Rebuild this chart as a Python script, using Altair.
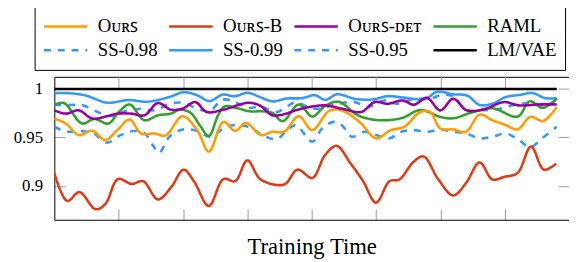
import altair as alt
import pandas as pd

# ---- data (x in "training time" units, ticks every 10) ----
SERIES = ["Oᴜʀꜱ", "Oᴜʀꜱ-B", "Oᴜʀꜱ-ᴅᴇᴛ", "RAML", "SS-0.98", "SS-0.99", "SS-0.95", "LM/VAE"]
COLORS = ["#FF9C00", "#DD3C16", "#9A00A0", "#33A02C", "#3399FF", "#3399FF", "#3399FF", "#000000"]
DASHES = [[1, 0], [1, 0], [1, 0], [1, 0], [7, 7], [1, 0], [7, 7], [1, 0]]
WIDTHS = [2.6, 2.6, 2.6, 1.0, 1.0, 1.0, 1.0, 1.1]
DRAW_ORDER = ["LM/VAE", "SS-0.95", "SS-0.98", "SS-0.99", "RAML", "Oᴜʀꜱ-B", "Oᴜʀꜱ", "Oᴜʀꜱ-ᴅᴇᴛ"]

X_TICKS = [10, 20, 30, 40, 50, 60, 70]
Y_TICKS = [0.9, 0.95, 1.0]

OURS_T = [0, 1.8, 3.8, 5.9, 7.9, 9.9, 11.7, 13.5, 15.6, 17.3, 19.9, 22.2, 24.0, 26.3, 28.1, 29.8,
          32.1, 33.9, 35.7, 38.0, 40.1, 42.6, 44.1, 45.7, 47.7, 50.0, 52.3, 54.4, 56.9, 58.4,
          60.0, 62.0, 64.0, 66.1, 68.1, 70.2, 72.0, 74.0, 76.0, 78.1]
OURS_V = [.9694, .9643, .9524, .9568, .9473, .9582, .9684, .9540, .9540, .9520, .9718, .9575,
          .9354, .9660, .9568, .9650, .9524, .9558, .9558, .9718, .9575, .9769, .9786, .9745,
          .9643, .9490, .9575, .9609, .9762, .9762, .9592, .9582, .9558, .9735, .9677, .9626,
          .9582, .9711, .9670, .9813]

OURSB_T = [0, 2.0, 3.9, 6.4, 7.9, 9.9, 12.0, 13.8, 16.1, 18.1, 20.1, 21.7, 24.0, 26.3, 28.1,
           30.0, 32.1, 35.7, 37.8, 40.1, 42.1, 43.9, 46.0, 48.0, 50.0, 52.1, 53.6, 55.9, 57.4,
           59.7, 62.0, 64.0, 66.1, 68.1, 69.9, 72.0, 74.1, 76.1, 78.0]
OURSB_V = [.9133, .8844, .8935, .8759, .8810, .9071, .9020, .9048, .8860, .8980, .9167, .9048,
           .8793, .9071, .9048, .9262, .9065, .9014, .9167, .9082, .9320, .9412, .9235, .9048,
           .8827, .9048, .9065, .9252, .9303, .9065, .8901, .9030, .9241, .9065, .9092, .9133,
           .9405, .9167, .9228]

DET_T = [0, 1.8, 3.8, 5.9, 8.0, 9.9, 12.0, 14.0, 16.1, 18.1, 19.9, 21.9, 23.7, 26.3, 30.1, 31.9,
         33.9, 36.0, 37.5, 39.6, 42.1, 44.7, 47.7, 49.8, 51.8, 54.1, 55.9, 57.9, 60.0, 62.0,
         64.1, 66.6, 69.9, 72.2, 75.3, 78.1]
DET_V = [.9779, .9745, .9779, .9694, .9715, .9745, .9745, .9728, .9854, .9786, .9796, .9864,
         .9762, .9786, .9857, .9830, .9728, .9745, .9779, .9813, .9830, .9796, .9762, .9864,
         .9847, .9881, .9837, .9908, .9779, .9898, .9779, .9786, .9864, .9830, .9840, .9840]

RAML_T = [0, 1.5, 4.3, 6.2, 8.4, 10.0, 11.7, 14.0, 16.1, 18.1, 19.5, 21.2, 22.7, 24.0, 25.5,
          26.5, 28.3, 30.4, 32.4, 33.9, 35.5, 38.0, 40.1, 42.1, 44.2, 47.2, 50.0, 53.9, 56.9,
          60.0, 62.0, 64.8, 68.1, 72.0, 73.9, 75.9, 78.1]
RAML_V = [.9837, .9854, .9643, .9690, .9643, .9760, .9840, .9677, .9728, .9745, .9786, .9752,
          .9616, .9514, .9735, .9820, .9803, .9769, .9769, .9752, .9667, .9840, .9715, .9825,
          .9867, .9728, .9680, .9697, .9782, .9711, .9697, .9755, .9800, .9714, .9872, .9805,
          .9900]

SS98_T = [0, 2.5, 4.5, 6.8, 8.8, 11.0, 13.5, 15.6, 18.1, 20.2, 22.3, 24.2, 26.2, 28.2, 30.2,
          32.2, 34.5, 36.0, 37.5, 39.5, 41.1, 44.2, 46.7, 48.7, 51.3, 53.3, 55.9, 58.4, 60.3,
          62.0, 64.1, 66.1, 69.2, 72.2, 74.8, 76.5, 78.1]
SS98_V = [.9835, .9835, .9830, .9760, .9720, .9770, .9795, .9780, .9850, .9855, .9790, .9775,
          .9890, .9860, .9805, .9815, .9760, .9810, .9864, .9810, .9796, .9847, .9864, .9813,
          .9880, .9847, .9898, .9898, .9940, .9920, .9780, .9780, .9796, .9847, .9847, .9830,
          .9890]

SS99_T = [0, 2.3, 4.9, 8.2, 11.5, 14.5, 17.8, 20.1, 22.2, 24.1, 26.2, 28.0, 30.1, 32.0, 34.0,
          36.0, 38.5, 40.5, 42.1, 44.0, 46.7, 49.3, 51.8, 54.4, 57.6, 59.5, 62.0, 64.2, 66.1,
          68.1, 70.1, 72.5, 74.3, 76.3, 78.1]
SS99_V = [.9956, .9956, .9932, .9858, .9885, .9868, .9915, .9965, .9935, .9875, .9942, .9925,
          .9960, .9915, .9871, .9900, .9905, .9935, .9888, .9945, .9898, .9890, .9925, .9910,
          .9895, .9970, .9945, .9930, .9835, .9847, .9915, .9940, .9958, .9905, .9905]

SS95_T = [0, 1.8, 4.0, 6.0, 8.2, 10.2, 12.2, 14.0, 15.3, 16.3, 17.8, 19.8, 22.0, 24.2, 26.5,
          28.5, 30.5, 32.3, 34.5, 36.0, 37.5, 40.1, 41.6, 43.4, 44.7, 46.2, 48.2, 50.0, 52.1,
          53.9, 55.9, 57.9, 60.0, 62.0, 64.1, 66.1, 68.1, 70.2, 72.2, 74.0, 75.8, 78.1]
SS95_V = [.9610, .9560, .9565, .9545, .9446, .9520, .9565, .9545, .9420, .9340, .9500, .9580,
          .9570, .9507, .9600, .9630, .9600, .9525, .9480, .9560, .9626, .9456, .9590, .9660,
          .9626, .9507, .9558, .9524, .9490, .9558, .9575, .9558, .9580, .9558, .9540, .9490,
          .9507, .9540, .9473, .9400, .9490, .9610]

LM_T = [0, 78.1]
LM_V = [1.0, 1.0]

DATA = {
    "Oᴜʀꜱ": (OURS_T, OURS_V),
    "Oᴜʀꜱ-B": (OURSB_T, OURSB_V),
    "Oᴜʀꜱ-ᴅᴇᴛ": (DET_T, DET_V),
    "RAML": (RAML_T, RAML_V),
    "SS-0.98": (SS98_T, SS98_V),
    "SS-0.99": (SS99_T, SS99_V),
    "SS-0.95": (SS95_T, SS95_V),
    "LM/VAE": (LM_T, LM_V),
}

rows = []
for name in DRAW_ORDER:
    ts, vs = DATA[name]
    for t, v in zip(ts, vs):
        rows.append({"series": name, "t": t, "v": v})
df = pd.DataFrame(rows)

SERIF = "Liberation Serif"
xs = alt.Scale(domain=[0, 80], nice=False, zero=False)
ys = alt.Scale(domain=[0.865, 1.0125], nice=False, zero=False)

legend = alt.Legend(
    orient="none", legendX=-20, legendY=-71, columns=4, direction="horizontal", title=None,
    symbolType="stroke", symbolSize=1936, clipHeight=24,
    labelFont=SERIF, labelFontSize=19, labelColor="black", labelOffset=9,
    labelLimit=300, columnPadding=10, rowPadding=0, padding=8,
    strokeColor="black", fillColor="white",
)

tick_col = "#9a9a9a"

lines = alt.Chart(df).mark_line(interpolate="catmull-rom", clip=True).encode(
    x=alt.X("t:Q", scale=xs, axis=alt.Axis(
        orient="bottom", values=X_TICKS, ticks=False, labels=False, grid=False,
        domain=True, domainColor="black", domainWidth=1,
        title="Training Time", titleFont=SERIF, titleFontSize=23,
        titleFontWeight="normal", titleColor="black", titlePadding=16)),
    y=alt.Y("v:Q", scale=ys, axis=alt.Axis(
        orient="left", values=Y_TICKS, ticks=False, grid=False, format="~g",
        domain=True, domainColor="black", domainWidth=1,
        labelFont=SERIF, labelFontSize=17, labelColor="black", labelPadding=12,
        title=None)),
    color=alt.Color("series:N", scale=alt.Scale(domain=SERIES, range=COLORS), legend=legend),
    strokeDash=alt.StrokeDash("series:N", scale=alt.Scale(domain=SERIES, range=DASHES), legend=legend),
    strokeWidth=alt.StrokeWidth("series:N", scale=alt.Scale(domain=SERIES, range=WIDTHS), legend=legend),
)

ticks_a = alt.Chart(df).mark_point(opacity=0).encode(
    x=alt.X("t:Q", scale=xs, axis=alt.Axis(
        orient="bottom", values=X_TICKS, offset=-11, domain=False, tickSize=11,
        tickColor=tick_col, tickWidth=1, labels=False, grid=False, title=None)),
    y=alt.Y("v:Q", scale=ys, axis=alt.Axis(
        orient="left", values=Y_TICKS, offset=-11, domain=False, tickSize=11,
        tickColor=tick_col, tickWidth=1, labels=False, grid=False, title=None)),
)

ticks_b = alt.Chart(df).mark_point(opacity=0).encode(
    x=alt.X("t:Q", scale=xs, axis=alt.Axis(
        orient="top", values=X_TICKS, domain=True, domainColor="black", domainWidth=1,
        ticks=False, labels=False, grid=False, title=None)),
    y=alt.Y("v:Q", scale=ys, axis=alt.Axis(
        orient="right", values=Y_TICKS, offset=-11, domain=False, tickSize=11,
        tickColor=tick_col, tickWidth=1, labels=False, grid=False, title=None)),
)

ticks_c = alt.Chart(df).mark_point(opacity=0).encode(
    x=alt.X("t:Q", scale=xs, axis=alt.Axis(
        orient="top", values=X_TICKS, offset=-11, domain=False, tickSize=11,
        tickColor=tick_col, tickWidth=1, labels=False, grid=False, title=None)),
    y=alt.Y("v:Q", scale=ys, axis=None),
)

chart = alt.layer(ticks_a, ticks_b, ticks_c, lines).resolve_axis(
    x="independent", y="independent"
).properties(
    width=522, height=145,
    autosize=alt.AutoSizeParams(type="none"),
    padding={"left": 47, "top": 68, "right": 0, "bottom": 38},
    background="white",
).configure_view(stroke=None)

chart.save("out.html", embed_options={"renderer": "svg", "actions": False})
